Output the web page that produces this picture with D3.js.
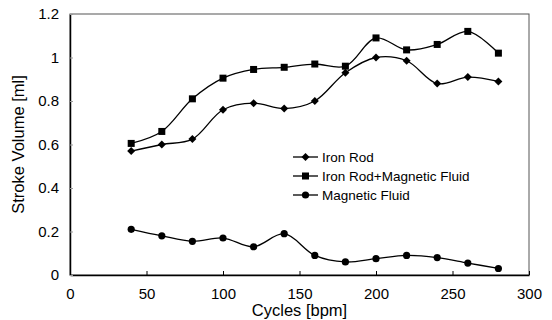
<!DOCTYPE html>
<html>
<head>
<meta charset="utf-8">
<script src="https://cdn.jsdelivr.net/npm/d3@7"></script>
<style>
  body { margin: 0; background: #fff; }
  text { font-family: "Liberation Sans", Arial, sans-serif; fill: #000; }
</style>
</head>
<body>
<div id="chart"></div>
<script>
const cycles = [40, 60, 80, 100, 120, 140, 160, 180, 200, 220, 240, 260, 280];
const ironRod = [0.57, 0.60, 0.625, 0.76, 0.79, 0.765, 0.80, 0.93, 1.0, 0.985, 0.88, 0.91, 0.89];
const ironRodFluid = [0.605, 0.66, 0.81, 0.905, 0.945, 0.955, 0.97, 0.96, 1.09, 1.035, 1.06, 1.12, 1.02];
const magFluid = [0.21, 0.18, 0.155, 0.17, 0.13, 0.19, 0.09, 0.06, 0.075, 0.09, 0.08, 0.055, 0.03];
const seriesNames = ["Iron Rod", "Iron Rod+Magnetic Fluid", "Magnetic Fluid"];
const xTicks = [0, 50, 100, 150, 200, 250, 300];
const yTicks = [0, 0.2, 0.4, 0.6, 0.8, 1, 1.2];

const FRAME_WIDTH = 552;
const FRAME_HEIGHT = 320;
const MARGINS = {left: 70, right: 23, top: 14, bottom: 45};

const svg = d3.select("#chart")
  .append("svg")
    .attr("width", FRAME_WIDTH)
    .attr("height", FRAME_HEIGHT);

const X_SCALE = d3.scaleLinear()
  .domain([0, 300])
  .range([MARGINS.left, FRAME_WIDTH - MARGINS.right]);

const Y_SCALE = d3.scaleLinear()
  .domain([0, 1.2])
  .range([FRAME_HEIGHT - MARGINS.bottom, MARGINS.top]);

// plot border
svg.append("rect")
  .attr("x", X_SCALE(0))
  .attr("y", Y_SCALE(1.2))
  .attr("width", X_SCALE(300) - X_SCALE(0))
  .attr("height", Y_SCALE(0) - Y_SCALE(1.2))
  .attr("fill", "none")
  .attr("stroke", "#555")
  .attr("stroke-width", 1);

// axes
const xAxis = svg.append("g")
  .attr("transform", `translate(0,${Y_SCALE(0)})`)
  .call(d3.axisBottom(X_SCALE).tickValues(xTicks).tickSizeInner(-4).tickSizeOuter(0).tickPadding(13));
xAxis.select(".domain").attr("stroke", "#000").attr("stroke-width", 1.5);
xAxis.selectAll("text").attr("font-size", 15);

const yAxis = svg.append("g")
  .attr("transform", `translate(${X_SCALE(0)},0)`)
  .call(d3.axisLeft(Y_SCALE).tickValues(yTicks).tickFormat(d3.format("~g")).tickSizeInner(-3).tickSizeOuter(0).tickPadding(11));
yAxis.select(".domain").attr("stroke", "#000").attr("stroke-width", 1.5);
yAxis.selectAll("text").attr("font-size", 15);
yAxis.selectAll(".tick line").attr("stroke", "#999");

// axis titles
svg.append("text")
  .attr("x", X_SCALE(150))
  .attr("y", 316)
  .attr("text-anchor", "middle")
  .attr("font-size", 16.5)
  .text("Cycles [bpm]");

svg.append("text")
  .attr("transform", `translate(24,${Y_SCALE(0.6)}) rotate(-90)`)
  .attr("text-anchor", "middle")
  .attr("font-size", 16.5)
  .text("Stroke Volume [ml]");

// lines
const allSeries = [ironRod, ironRodFluid, magFluid];
const shapes = ["diamond", "square", "circle"];

const line = d3.line()
  .x((d, i) => X_SCALE(cycles[i]))
  .y(d => Y_SCALE(d))
  .curve(d3.curveCatmullRom.alpha(0.5));

function drawMarker(g, shape, x, y) {
  if (shape === "diamond") {
    g.append("path")
      .attr("d", `M${x},${y - 4}L${x + 4},${y}L${x},${y + 4}L${x - 4},${y}Z`)
      .attr("fill", "#000");
  } else if (shape === "square") {
    g.append("rect")
      .attr("x", x - 3.5).attr("y", y - 3.5)
      .attr("width", 7).attr("height", 7)
      .attr("fill", "#000");
  } else {
    g.append("circle")
      .attr("cx", x).attr("cy", y).attr("r", 3.6)
      .attr("fill", "#000");
  }
}

allSeries.forEach((vals, k) => {
  svg.append("path")
    .datum(vals)
    .attr("d", line)
    .attr("fill", "none")
    .attr("stroke", "#000")
    .attr("stroke-width", 1.3);
  const g = svg.append("g");
  vals.forEach((v, i) => drawMarker(g, shapes[k], X_SCALE(cycles[i]), Y_SCALE(v)));
});

// legend
const legend = svg.append("g");
seriesNames.forEach((name, k) => {
  const y = 157 + k * 19;
  legend.append("line")
    .attr("x1", 293).attr("x2", 318)
    .attr("y1", y).attr("y2", y)
    .attr("stroke", "#000").attr("stroke-width", 1.3);
  drawMarker(legend, shapes[k], 305.5, y);
  legend.append("text")
    .attr("x", 322)
    .attr("y", y + 5)
    .attr("font-size", 13.5)
    .text(name);
});
</script>
</body>
</html>
